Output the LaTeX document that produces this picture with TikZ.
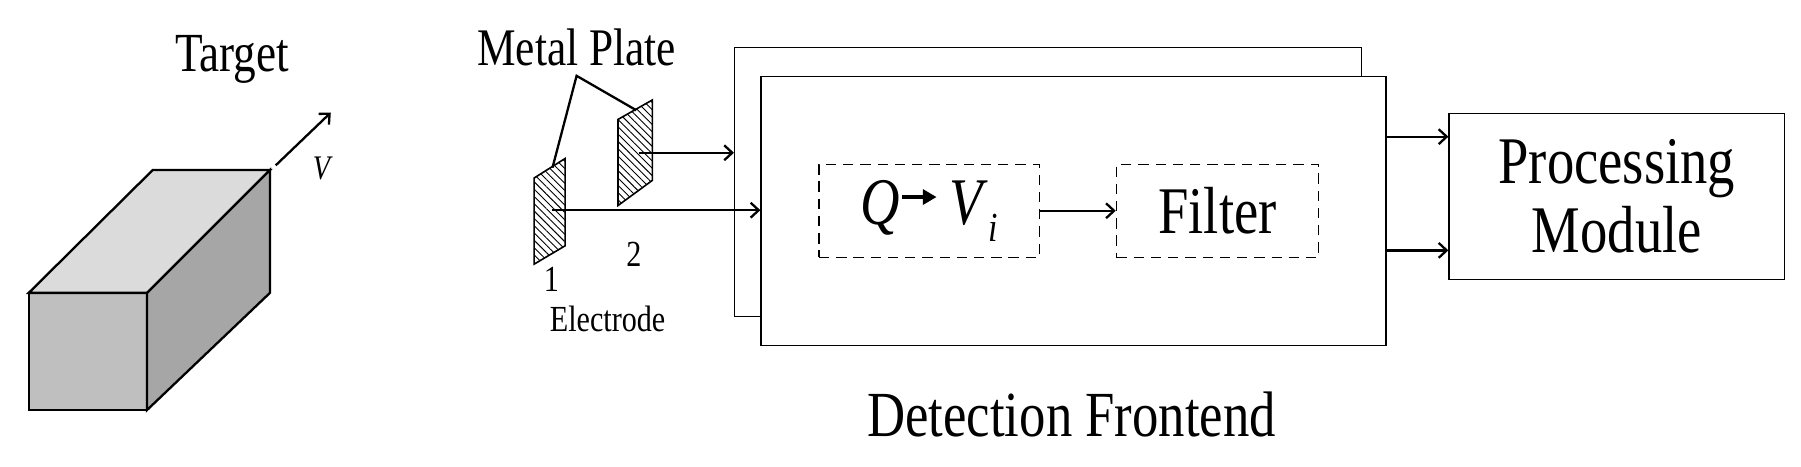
\documentclass[tikz,border=0pt]{standalone}
\usepackage{fontspec}
\setmainfont{Liberation Serif}[FakeStretch=0.82]
\usetikzlibrary{patterns.meta,arrows.meta}
\begin{document}
\begin{tikzpicture}[x=1pt,y=-1pt,
  ln/.style={line width=2pt},
  arr/.style={ln,-{Straight Barb[length=7pt,width=13pt,line width=2pt]}},
  blk/.style={draw,line width=1.2pt,fill=white},
  dsh/.style={draw,line width=1.2pt,dash pattern=on 9pt off 6pt},
  hat/.style={line width=1.4pt,pattern={Lines[angle=-45,distance=4.5pt,line width=0.8pt]}},
  fs/.style={font=\fontsize{#1}{#1}\selectfont}]
\useasboundingbox (0,0) rectangle (1568,406);
% target box
\draw[ln,fill=gray!50] (25,255) rectangle (128,357);
\draw[ln,fill=gray!28] (25,255) -- (133,148) -- (235,148) -- (128,255) -- cycle;
\draw[ln,fill=gray!70] (128,255) -- (235,148) -- (235,255) -- (128,357) -- cycle;
\coordinate (va) at (240,144); \coordinate (vb) at (288,98);
\draw[arr] (va) -- (vb);
\node[font=\itshape\fontsize{30}{30}\selectfont] (V) at (280,147) {V};
\node[fs=48] (tgt) at (202,52) {Target};
% electrodes
\draw[hat] (465,155) -- (492,138) -- (492,214) -- (465,230) -- cycle;
\draw[hat] (538,104) -- (568,87) -- (568,157) -- (538,179) -- cycle;
\node[fs=46] (mp) at (502,41) {Metal Plate};
\coordinate (l1) at (481,146); \coordinate (lt) at (502,66); \coordinate (l2) at (554,96);
\draw[ln] (l1) -- (lt) -- (l2);
\node[fs=32] (n1) at (480,243) {1};
\node[fs=32] (n2) at (552,221) {2};
\node[fs=32] (el) at (529,278) {Electrode};
% frontend
\node[blk,minimum width=546pt,minimum height=234pt,anchor=north west] (back) at (639,41) {};
\node[blk,minimum width=544pt,minimum height=234pt,anchor=north west] (front) at (662,66) {};
\coordinate (e2) at (556,133); \coordinate (e1) at (481,183);
\draw[arr] (e2) -- (e2 -| back.west);
\draw[arr] (e1) -- (e1 -| front.west);
\node[dsh,minimum width=192pt,minimum height=81pt] (qv) at (809,183.5) {};
\node[fs=58] at (qv) {\textit{Q}\raisebox{0.3em}{\tikz\draw[line width=3pt,-{Triangle[length=12pt,width=13pt]}] (0,0)--(30pt,0);}\,\textit{V}\raisebox{-0.25em}{\fontsize{36}{36}\selectfont\textit{i}}};
\node[dsh,minimum width=176pt,minimum height=81pt] (flt) at (1060,183.5) {};
\node[fs=58] at (flt) {Filter};
\draw[arr] (qv.east) -- (flt.west);
\node[fs=56] (df) at (933,361) {Detection Frontend};
% processing
\node[blk,minimum width=292pt,minimum height=145pt,anchor=north west,fs=58,align=center] (pm) at (1261,98) {Processing\\[2pt]Module};
\coordinate (o1) at (1206,119); \coordinate (o2) at (1206,218);
\draw[arr] (o1) -- (o1 -| pm.west);
\draw[arr] (o2) -- (o2 -| pm.west);
\end{tikzpicture}
\end{document}
